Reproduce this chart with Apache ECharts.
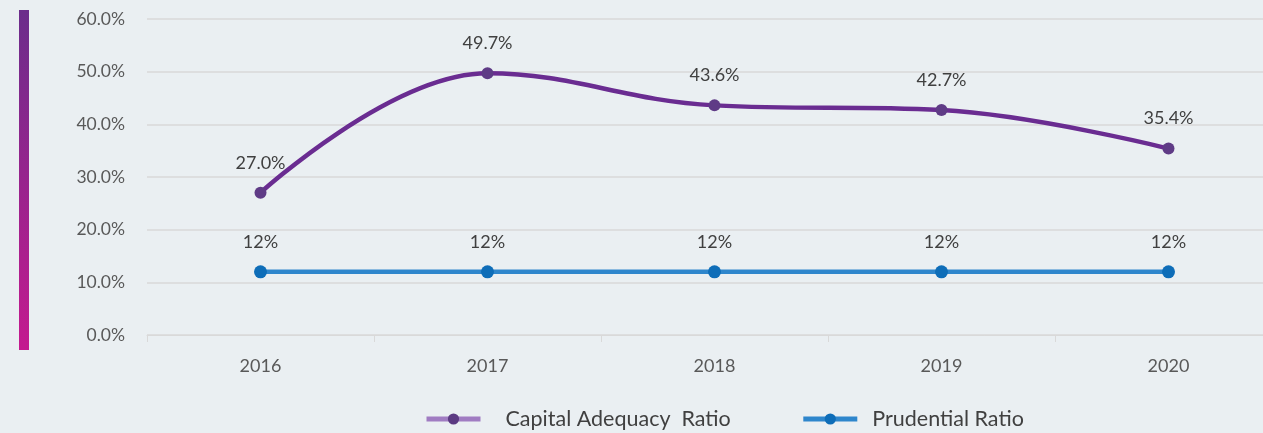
<!DOCTYPE html>
<html><head><meta charset="utf-8">
<script src="https://cdn.jsdelivr.net/npm/echarts@6/dist/echarts.min.js"></script>
<style>html,body{margin:0;padding:0;background:#eaeff2;}#c{width:1263px;height:433px;}</style>
</head><body><div id="c"></div>
<script>
const categories = ['2016','2017','2018','2019','2020'];
const capitalAdequacy = [27.0, 49.7, 43.6, 42.7, 35.4];
const prudential = [12, 12, 12, 12, 12];
const yTicks = [0, 10, 20, 30, 40, 50, 60];

const FONT = 'Lato';
const chart = echarts.init(document.getElementById('c'), null, {renderer:'canvas'});
chart.setOption({
  backgroundColor:'#eaeff2',
  animation:false,
  graphic:[{type:'rect', left:19, top:10, shape:{width:10, height:340},
    style:{fill:new echarts.graphic.LinearGradient(0,0,0,1,[{offset:0,color:'#6b2d8b'},{offset:1,color:'#c41a8f'}])}}],
  grid:{left:147, width:1135, top:19, bottom:98, outerBoundsMode:'none', containLabel:false},
  legend:{top:403, left:419, itemWidth:54, itemHeight:14, itemGap:70,
    textStyle:{fontFamily:FONT, fontSize:21.5, color:'#404040'},
    data:[
      {name:'Capital Adequacy  Ratio', itemStyle:{color:'#5b3a82'}, lineStyle:{color:'#a07cc2', width:5},
        textStyle:{padding:[0,0,0,20]}},
      {name:'Prudential Ratio', itemStyle:{color:'#0e6db8'}, lineStyle:{color:'#2e86cc', width:5},
        textStyle:{padding:[0,0,0,10]}}
    ]},
  xAxis:{type:'category', data:categories, boundaryGap:true,
    axisLine:{lineStyle:{color:'#d9d9d9', width:1}},
    axisTick:{show:true, length:7, lineStyle:{color:'#d9d9d9'}},
    axisLabel:{fontFamily:FONT, fontSize:18, color:'#595959', margin:22}},
  yAxis:{type:'value', min:yTicks[0], max:yTicks[yTicks.length-1], interval:10,
    axisLine:{show:false}, axisTick:{show:false},
    splitLine:{lineStyle:{color:'#d9d9d9', width:1.5}},
    axisLabel:{fontFamily:FONT, fontSize:17.5, color:'#595959', margin:22,
      formatter:v=>v.toFixed(1)+'%'}},
  series:[
    {name:'Capital Adequacy  Ratio', type:'line', data:capitalAdequacy, smooth:0.4,
      symbol:'circle', symbolSize:12,
      lineStyle:{color:'#6a2c91', width:4.5}, itemStyle:{color:'#5f3b86'},
      label:{show:true, position:'top', distance:15, fontFamily:FONT, fontSize:18, color:'#404040',
        formatter:p=>p.value.toFixed(1)+'%'}},
    {name:'Prudential Ratio', type:'line', data:prudential,
      symbol:'circle', symbolSize:13,
      lineStyle:{color:'#2e86cc', width:4.5}, itemStyle:{color:'#0e6db8'},
      label:{show:true, position:'top', distance:14, fontFamily:FONT, fontSize:18, color:'#404040',
        formatter:p=>p.value+'%'}}
  ]
});
</script></body></html>
